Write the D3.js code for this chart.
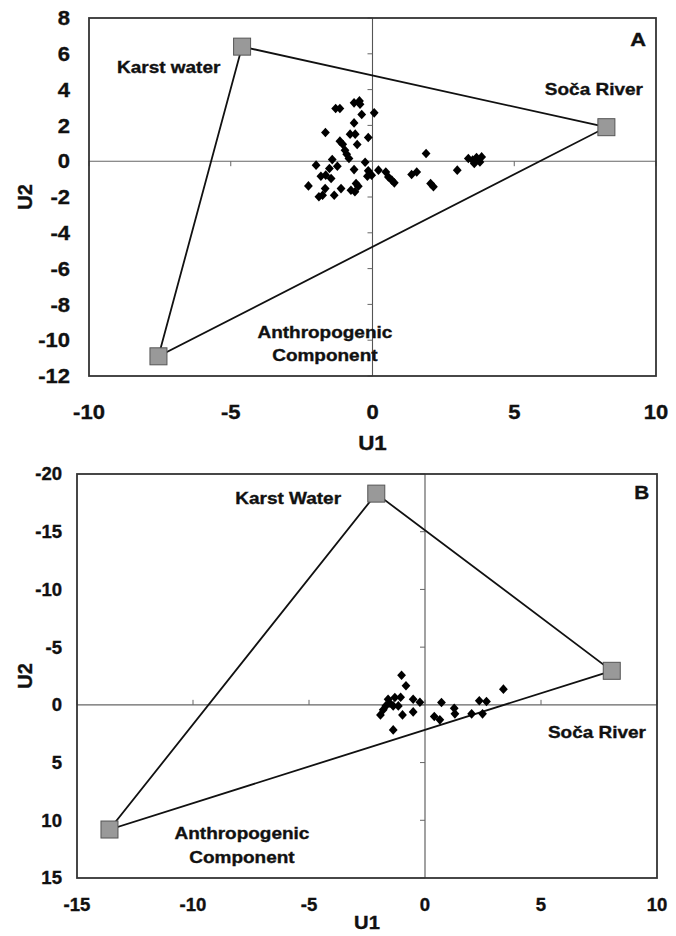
<!DOCTYPE html>
<html><head><meta charset="utf-8">
<script src="https://cdn.jsdelivr.net/npm/d3@7"></script>
<style>
html,body{margin:0;padding:0;background:#fff;}
svg text{font-family:"Liberation Sans",Arial,sans-serif;font-weight:bold;fill:#111;stroke:#111;stroke-width:0.35px;}
</style></head>
<body>
<svg id="chart" width="676" height="936"></svg>
<script>
// ---------- Panel A data ----------
const sampleU1_A = [-1.30,-1.15,-0.65,-0.46,-0.44,-0.38,0.06,-0.65,-1.66,-0.79,-0.61,-0.15,-1.15,-1.05,-0.54,-0.97,-0.91,-0.83,-1.42,-0.26,-1.99,-1.24,-1.52,-0.65,-1.65,-1.82,-1.46,-0.15,-0.18,-0.03,0.21,0.47,0.56,0.68,0.77,-2.26,-1.67,-1.11,-0.58,-0.50,-0.76,-0.62,-1.89,-1.76,-1.35,1.38,1.56,1.89,2.05,2.15,2.99,3.38,3.53,3.67,3.85,3.59,3.79];
const sampleU2_A = [2.94,2.94,3.26,3.37,3.18,2.61,2.70,2.14,1.60,1.51,1.51,1.32,1.12,0.95,0.93,0.61,0.39,0.15,0.09,-0.06,-0.22,-0.28,-0.41,-0.47,-0.78,-0.84,-0.97,-0.54,-0.84,-0.78,-0.50,-0.60,-0.88,-1.06,-1.21,-1.38,-1.53,-1.53,-1.25,-1.40,-1.62,-1.71,-1.99,-1.90,-1.90,-0.74,-0.60,0.43,-1.25,-1.43,-0.50,0.15,0.06,0.20,0.24,-0.13,-0.04];
const endNames_A = ["Karst water","Soča River","Anthropogenic Component"];
const endU1_A = [-4.6, 8.25, -7.55];
const endU2_A = [6.4, 1.9, -10.9];
const xTicks_A = [-10,-5,0,5,10];
const yTicks_A = [8,6,4,2,0,-2,-4,-6,-8,-10,-12];

// ---------- Panel B data ----------
const sampleU1_B = [-1.01,-0.82,3.38,-1.59,-1.30,-1.05,-0.51,-0.22,-1.51,-1.69,-1.37,-1.80,-1.92,-0.97,-0.51,0.71,2.34,2.65,1.26,1.29,0.40,0.64,2.01,2.48,-1.15,-1.37];
const sampleU2_B = [-2.57,-1.65,-1.36,-0.49,-0.64,-0.66,-0.49,-0.23,-0.14,0.09,0.09,0.43,0.87,0.87,0.61,-0.20,-0.35,-0.29,0.29,0.78,1.01,1.30,0.78,0.78,0.09,2.17];
const endNames_B = ["Karst Water","Soča River","Anthropogenic Component"];
const endU1_B = [-2.1, 8.05, -13.6];
const endU2_B = [-18.3, -2.95, 10.8];
const xTicks_B = [-15,-10,-5,0,5,10];
const yTicks_B = [-20,-15,-10,-5,0,5,10,15];

const svg = d3.select("#chart");

function drawPanel(cfg) {
  const x = d3.scaleLinear().domain(cfg.xDomain).range([cfg.left, cfg.right]);
  const y = d3.scaleLinear().domain(cfg.yDomain).range([cfg.bottom, cfg.top]);
  const g = svg.append("g");

  // zero axes (Excel style) with tick marks
  g.append("line").attr("x1", cfg.left).attr("x2", cfg.right).attr("y1", y(0)).attr("y2", y(0))
    .attr("stroke", "#666").attr("stroke-width", 1.1);
  g.append("line").attr("x1", x(0)).attr("x2", x(0)).attr("y1", cfg.top).attr("y2", cfg.bottom)
    .attr("stroke", "#555").attr("stroke-width", 1.1);
  const hTickDir = cfg.hTickUp ? -1 : 1;
  g.selectAll(".hx").data(cfg.xTicks).enter().append("line")
    .attr("x1", d => x(d)).attr("x2", d => x(d))
    .attr("y1", y(0)).attr("y2", y(0) + 5 * hTickDir)
    .attr("stroke", "#666").attr("stroke-width", 1);
  g.selectAll(".vy").data(cfg.yTicks).enter().append("line")
    .attr("x1", x(0)).attr("x2", x(0) - 5)
    .attr("y1", d => y(d)).attr("y2", d => y(d))
    .attr("stroke", "#666").attr("stroke-width", 1);

  // frame
  g.append("rect").attr("x", cfg.left).attr("y", cfg.top)
    .attr("width", cfg.right - cfg.left).attr("height", cfg.bottom - cfg.top)
    .attr("fill", "none").attr("stroke", "#333").attr("stroke-width", 1.8);

  // tick labels
  g.selectAll(".xl").data(cfg.xTicks).enter().append("text")
    .attr("transform", d => `translate(${x(d)},${cfg.xLabelY}) scale(${cfg.tickStretch},1)`)
    .attr("text-anchor", "middle").attr("dy", "0.36em")
    .style("font-size", cfg.tickSize + "px").text(d => d);
  g.selectAll(".yl").data(cfg.yTicks).enter().append("text")
    .attr("transform", d => `translate(${cfg.yLabelX},${y(d)}) scale(${cfg.tickStretch},1)`)
    .attr("text-anchor", "end").attr("dy", "0.36em")
    .style("font-size", cfg.tickSize + "px").text(d => d);

  // axis titles
  g.append("text")
    .attr("transform", `translate(${(cfg.left + cfg.right) / 2},${cfg.xTitleY}) scale(1.12,1)`)
    .attr("text-anchor", "middle").attr("dy", "0.36em").style("font-size", cfg.xTitleSize + "px").text("U1");
  g.append("text")
    .attr("transform", `translate(25,${(cfg.top + cfg.bottom) / 2}) rotate(-90)`)
    .attr("text-anchor", "middle").attr("dy", "0.36em").style("font-size", "20px").text("U2");

  // mixing triangle
  const pts = cfg.endU1.map((u, i) => [x(u), y(cfg.endU2[i])]);
  g.append("path").attr("d", d3.line()(pts) + "Z")
    .attr("fill", "none").attr("stroke", "#111").attr("stroke-width", 1.8);

  // samples (diamonds)
  g.selectAll(".pt").data(cfg.u1).enter().append("path")
    .attr("transform", (d, i) => `translate(${x(d)},${y(cfg.u2[i])})`)
    .attr("d", "M0,-4.8L4.4,0L0,4.8L-4.4,0Z").attr("fill", "#000");

  // end-member squares
  g.selectAll(".sq").data(cfg.endU1).enter().append("rect")
    .attr("x", d => x(d) - 8.5).attr("y", (d, i) => y(cfg.endU2[i]) - 8.5)
    .attr("width", 17).attr("height", 17)
    .attr("fill", "#999").attr("stroke", "#555").attr("stroke-width", 1);

  // annotations
  cfg.labels.forEach(l => {
    g.append("text")
      .attr("transform", `translate(${x(l.u1)},${y(l.u2)}) scale(1.15,1)`)
      .attr("text-anchor", l.anchor).attr("dy", "0.36em")
      .style("font-size", (l.size || 16.5) + "px").text(l.text);
  });
}

drawPanel({
  xDomain: [-10, 10], yDomain: [-12, 8],
  left: 89, right: 656, top: 18, bottom: 376,
  xTicks: xTicks_A, yTicks: yTicks_A,
  u1: sampleU1_A, u2: sampleU2_A, endU1: endU1_A, endU2: endU2_A,
  xLabelY: 412, yLabelX: 70, xTitleY: 443, xTitleSize: 20, tickSize: 20, tickStretch: 1.1, hTickUp: false,
  labels: [
    {text: endNames_A[0], u1: -9.01, u2: 5.25, anchor: "start"},
    {text: endNames_A[1], u1: 6.08, u2: 4.02, anchor: "start"},
    {text: "Anthropogenic", u1: -1.68, u2: -9.55, anchor: "middle"},
    {text: "Component", u1: -1.68, u2: -10.84, anchor: "middle"},
    {text: "A", u1: 9.65, u2: 6.82, anchor: "end", size: 19}
  ]
});

drawPanel({
  xDomain: [-15, 10], yDomain: [15, -20],
  left: 77, right: 657, top: 474, bottom: 878,
  xTicks: xTicks_B, yTicks: yTicks_B,
  u1: sampleU1_B, u2: sampleU2_B, endU1: endU1_B, endU2: endU2_B,
  xLabelY: 905, yLabelX: 62, xTitleY: 923, xTitleSize: 18, tickSize: 18, tickStretch: 1.03, hTickUp: true,
  labels: [
    {text: endNames_B[0], u1: -3.62, u2: -17.94, anchor: "end"},
    {text: endNames_B[1], u1: 5.3, u2: 2.34, anchor: "start"},
    {text: "Anthropogenic", u1: -7.89, u2: 11.09, anchor: "middle"},
    {text: "Component", u1: -7.89, u2: 13.17, anchor: "middle"},
    {text: "B", u1: 9.66, u2: -18.37, anchor: "end", size: 18}
  ]
});
</script>
</body></html>
